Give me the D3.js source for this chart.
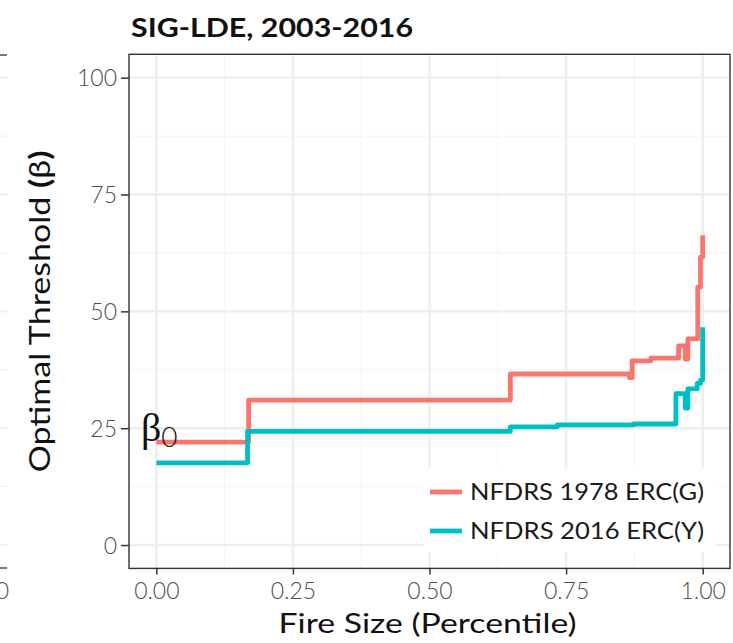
<!DOCTYPE html>
<html>
<head>
<meta charset="utf-8">
<script src="https://cdn.jsdelivr.net/npm/d3@7"></script>
<style>
  html, body { margin: 0; padding: 0; background: #fff; }
  svg { display: block; }
</style>
</head>
<body>
<div id="chart"></div>
<script>
// ---------------- data ----------------
const chartTitle = "SIG-LDE, 2003-2016";
const xTitle = "Fire Size (Percentile)";
const yTitle = "Optimal Threshold ";
const seriesNames = ["NFDRS 1978 ERC(G)", "NFDRS 2016 ERC(Y)"];
const seriesColors = ["#F8766D", "#00BFC4"];

// NFDRS 1978 ERC(G): step breakpoints (percentile, threshold)
const ercG_x = [0.000, 0.169, 0.648, 0.866, 0.871, 0.905, 0.956, 0.968, 0.973, 0.991, 0.996, 1.000];
const ercG_y = [22.0, 31.0, 36.6, 35.8, 39.4, 40.0, 42.6, 39.8, 44.1, 55.2, 61.6, 66.3];

// NFDRS 2016 ERC(Y)
const ercY_x = [0.000, 0.167, 0.648, 0.734, 0.874, 0.951, 0.968, 0.973, 0.990, 0.996, 1.000];
const ercY_y = [17.6, 24.3, 25.3, 25.7, 25.9, 32.4, 29.3, 33.4, 34.6, 35.3, 46.6];

const xTicks = [0, 0.25, 0.5, 0.75, 1];
const yTicks = [0, 25, 50, 75, 100];
const xMinor = [0.125, 0.375, 0.625, 0.875];
const yMinor = [12.5, 37.5, 62.5, 87.5];

// ---------------- drawing ----------------
const W = 733, H = 643;
const svg = d3.select("#chart").append("svg").attr("width", W).attr("height", H);
const FONT = "Lato, 'DejaVu Sans', sans-serif";

const x = d3.scaleLinear().domain([-0.05, 1.05]).range([129, 730]);
const y = d3.scaleLinear().domain([-5, 105]).range([568.4, 54.3]);

const [px0, px1] = x.range();
const [py1, py0] = y.range();

// fragment of neighbouring panel at the far left
const frag = svg.append("g");
[55, 568].forEach(v => frag.append("line").attr("x1", 0).attr("x2", 7).attr("y1", v).attr("y2", v)
  .attr("stroke", "#333").attr("stroke-width", 1.3));
yTicks.concat(yMinor).forEach(v => frag.append("line").attr("x1", 0).attr("x2", 7)
  .attr("y1", y(v)).attr("y2", y(v)).attr("stroke", "#EFEFEF").attr("stroke-width", yTicks.includes(v) ? 2.2 : 1.1));
frag.append("text").attr("x", 9).attr("y", 599).attr("text-anchor", "end")
  .attr("font-family", FONT).attr("font-size", 23).attr("font-weight", 300).attr("fill", "#4D4D4D").text("0");

// panel background
svg.append("rect").attr("x", px0).attr("y", py0).attr("width", px1 - px0).attr("height", py1 - py0).attr("fill", "#fff");

// grid
const grid = svg.append("g");
xMinor.forEach(v => grid.append("line").attr("x1", x(v)).attr("x2", x(v)).attr("y1", py0).attr("y2", py1)
  .attr("stroke", "#F5F5F5").attr("stroke-width", 1.2));
yMinor.forEach(v => grid.append("line").attr("y1", y(v)).attr("y2", y(v)).attr("x1", px0).attr("x2", px1)
  .attr("stroke", "#F5F5F5").attr("stroke-width", 1.2));
xTicks.forEach(v => grid.append("line").attr("x1", x(v)).attr("x2", x(v)).attr("y1", py0).attr("y2", py1)
  .attr("stroke", "#EEEEEE").attr("stroke-width", 2.4));
yTicks.forEach(v => grid.append("line").attr("y1", y(v)).attr("y2", y(v)).attr("x1", px0).attr("x2", px1)
  .attr("stroke", "#EEEEEE").attr("stroke-width", 2.4));

// lines
const series = [
  { name: seriesNames[0], color: seriesColors[0], pts: ercG_x.map((v, i) => [v, ercG_y[i]]) },
  { name: seriesNames[1], color: seriesColors[1], pts: ercY_x.map((v, i) => [v, ercY_y[i]]) }
];
const line = d3.line().x(d => x(d[0])).y(d => y(d[1])).curve(d3.curveStepAfter);
svg.append("g").selectAll("path").data(series).join("path")
  .attr("d", d => line(d.pts))
  .attr("fill", "none")
  .attr("stroke", d => d.color)
  .attr("stroke-width", 4.8)
  .attr("stroke-linejoin", "round");

// beta_0 annotation
const beta = svg.append("text").attr("x", 141).attr("y", 441).attr("fill", "#111");
beta.append("tspan").attr("font-family", "'Liberation Serif', 'DejaVu Serif', serif").attr("font-size", 40).text("β");
beta.append("tspan").attr("font-family", FONT).attr("font-size", 28).attr("font-weight", 300).attr("dy", 6).text("0");

// legend
const leg = svg.append("g");
leg.append("rect").attr("x", 424).attr("y", 468).attr("width", 292).attr("height", 84).attr("fill", "#fff");
series.forEach((s, i) => {
  const cy = 492 + i * 39;
  leg.append("line").attr("x1", 430).attr("x2", 462).attr("y1", cy).attr("y2", cy)
    .attr("stroke", s.color).attr("stroke-width", 4.8);
  leg.append("text").attr("x", 470).attr("y", cy + 8).attr("font-family", FONT).attr("font-size", 23)
    .attr("fill", "#1A1A1A").attr("textLength", 234).attr("lengthAdjust", "spacingAndGlyphs").text(s.name);
});

// panel border
svg.append("rect").attr("x", px0).attr("y", py0).attr("width", px1 - px0).attr("height", py1 - py0)
  .attr("fill", "none").attr("stroke", "#333").attr("stroke-width", 1.4);

// axes
const xAxis = svg.append("g").attr("transform", `translate(0,${py1})`)
  .call(d3.axisBottom(x).tickValues(xTicks).tickFormat(d3.format(".2f")).tickSize(6).tickPadding(8));
const yAxis = svg.append("g").attr("transform", `translate(${px0},0)`)
  .call(d3.axisLeft(y).tickValues(yTicks).tickSize(8).tickPadding(4));
[xAxis, yAxis].forEach(a => {
  a.select(".domain").remove();
  a.selectAll(".tick line").attr("stroke", "#333").attr("stroke-width", 1.5);
  a.selectAll(".tick text").attr("font-family", FONT).attr("font-size", 23).attr("font-weight", 300).attr("fill", "#4D4D4D");
});
yAxis.selectAll(".tick text").attr("dy", "0.36em");

// titles
svg.append("text").attr("x", 131).attr("y", 37).attr("font-family", FONT).attr("font-weight", 700)
  .attr("font-size", 27).attr("fill", "#111").attr("textLength", 282).attr("lengthAdjust", "spacingAndGlyphs")
  .text(chartTitle);

svg.append("text").attr("x", (px0 + px1) / 2 - 2).attr("y", 633).attr("text-anchor", "middle")
  .attr("font-family", FONT).attr("font-size", 27).attr("fill", "#111")
  .attr("textLength", 298).attr("lengthAdjust", "spacingAndGlyphs").text(xTitle);

const yt = svg.append("text").attr("transform", `translate(50,${(py0 + py1) / 2}) rotate(-90)`)
  .attr("text-anchor", "middle").attr("font-family", FONT).attr("font-size", 28).attr("fill", "#111")
  .attr("textLength", 322).attr("lengthAdjust", "spacingAndGlyphs");
yt.append("tspan").text(yTitle);
yt.append("tspan").attr("font-weight", 700).text("(");
yt.append("tspan").text("β");
yt.append("tspan").attr("font-weight", 700).text(")");
</script>
</body>
</html>
